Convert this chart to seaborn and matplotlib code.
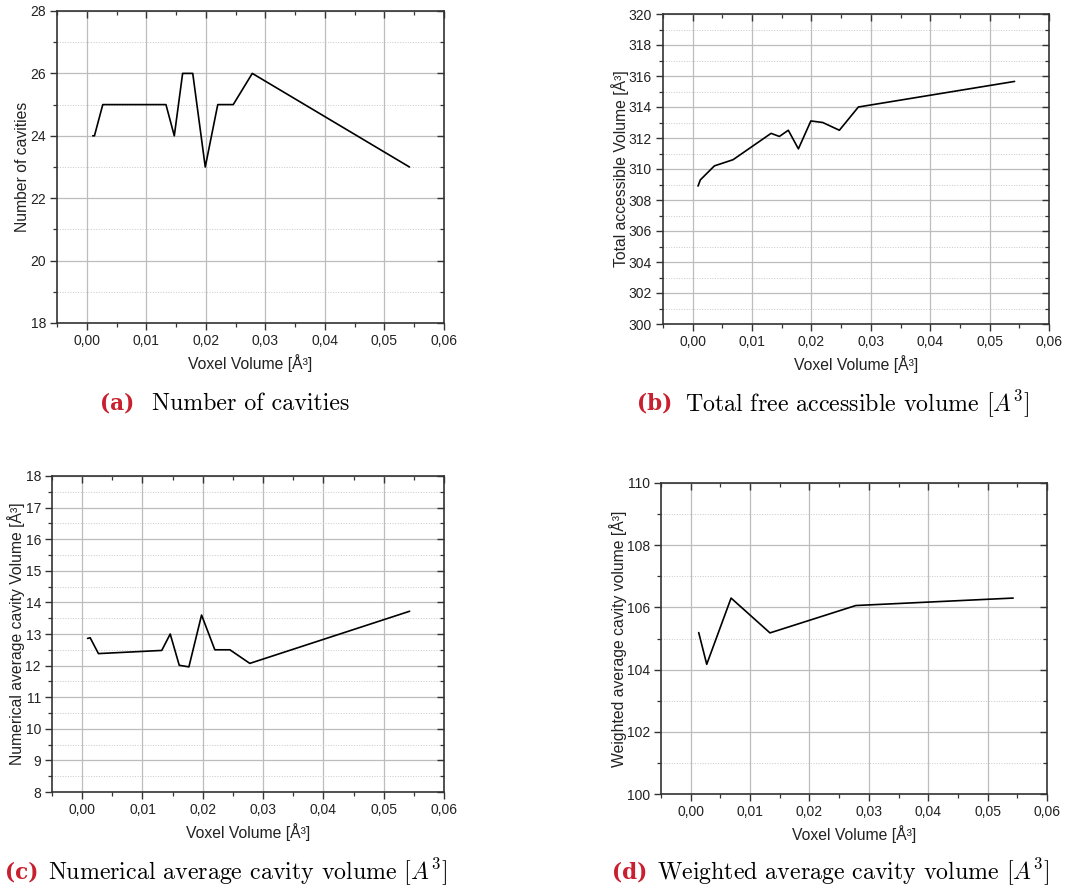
import numpy as np
import pandas as pd
import seaborn as sns
import matplotlib
matplotlib.use("Agg")
import matplotlib.pyplot as plt
from matplotlib.ticker import MultipleLocator, FuncFormatter

# ---------------- data ----------------
a_x = [0.0010, 0.00129, 0.00269, 0.0133, 0.0147, 0.0161, 0.0178, 0.0199, 0.0220, 0.0246, 0.0278, 0.0542]
a_y = [24, 24, 25, 25, 24, 26, 26, 23, 25, 25, 26, 23]

b_x = [0.0009, 0.00129, 0.00365, 0.0068, 0.0132, 0.0146, 0.0161, 0.0178, 0.0199, 0.0219, 0.0247, 0.0279, 0.0542]
b_y = [308.9, 309.3, 310.2, 310.6, 312.3, 312.1, 312.5, 311.3, 313.1, 313.0, 312.5, 314.0, 315.65]

c_x = [0.0009, 0.00133, 0.0027, 0.0132, 0.0146, 0.0161, 0.0177, 0.0198, 0.0220, 0.0245, 0.0278, 0.0543]
c_y = [12.86, 12.88, 12.38, 12.48, 13.0, 12.01, 11.96, 13.6, 12.5, 12.5, 12.07, 13.72]

d_x = [0.00135, 0.0027, 0.0068, 0.01335, 0.0278, 0.0543]
d_y = [105.19, 104.17, 106.30, 105.18, 106.06, 106.30]

x_label = "Voxel Volume [Å³]"
y_labels = ["Number of cavities", "Total accessible Volume [Å³]",
            "Numerical average cavity Volume [Å³]", "Weighted average cavity volume [Å³]"]
tags = ["(a)", "(b)", "(c)", "(d)"]
captions = ["Number of cavities", r"Total free accessible volume $[A^3]$",
            r"Numerical average cavity volume $[A^3]$", r"Weighted average cavity volume $[A^3]$"]
y_ranges = [(18, 28), (300, 320), (8, 18), (100, 110)]
y_major = [2, 2, 1, 2]

# ---------------- style ----------------
sns.set_style("white")
plt.rcParams['font.family'] = ['Liberation Sans', 'DejaVu Sans']
plt.rcParams['mathtext.fontset'] = 'cm'

W, H = 1067, 890
fig = plt.figure(figsize=(W / 100, H / 100), dpi=100)

# axes rectangles in pixels: left, top, right, bottom
rects = [(57, 11, 444, 323), (663, 14, 1049, 324), (52, 476, 444, 792), (661, 483, 1047, 794)]
datasets = [(a_x, a_y), (b_x, b_y), (c_x, c_y), (d_x, d_y)]
# caption: tag left edge, text left, center y
cap_pos = [(100, 152, 404), (637, 685, 404), (5, 48, 872), (612, 657, 872)]

comma = FuncFormatter(lambda v, p: f"{v:.2f}".replace('.', ','))

for i in range(4):
    l, t, r, b = rects[i]
    ax = fig.add_axes([l / W, 1 - b / H, (r - l) / W, (b - t) / H])
    xs, ys = datasets[i]
    df = pd.DataFrame({"x": xs, "y": ys})
    sns.lineplot(data=df, x="x", y="y", ax=ax, color="black", linewidth=1.2,
                 estimator=None, sort=False)
    ax.set_xlim(-0.005, 0.06)
    ax.set_ylim(*y_ranges[i])
    ax.xaxis.set_major_locator(MultipleLocator(0.01))
    ax.xaxis.set_minor_locator(MultipleLocator(0.005))
    ax.yaxis.set_major_locator(MultipleLocator(y_major[i]))
    ax.yaxis.set_minor_locator(MultipleLocator(y_major[i] / 2))
    ax.xaxis.set_major_formatter(comma)
    ax.grid(True, which='major', color='#bdbdbd', linewidth=0.9, linestyle='-')
    ax.grid(True, which='minor', axis='y', color='#c8c8c8', linewidth=0.7, linestyle=':')
    ax.set_axisbelow(True)
    for s in ax.spines.values():
        s.set_color('#333333')
        s.set_linewidth(1.2)
        s.set_visible(True)
    ax.tick_params(which='both', bottom=True, left=True, top=True, right=True,
                   direction='out', colors='#333333', labelcolor='#222222', labelsize=10)
    ax.tick_params(which='major', length=5, width=1, pad=3)
    ax.tick_params(which='minor', length=3, width=0.9)
    # top & right ticks point inward
    for tk in ax.xaxis.get_major_ticks() + ax.xaxis.get_minor_ticks():
        tk.tick2line.set_marker(matplotlib.lines.TICKDOWN)
    for tk in ax.yaxis.get_major_ticks() + ax.yaxis.get_minor_ticks():
        tk.tick2line.set_marker(matplotlib.lines.TICKLEFT)
    ax.set_xlabel(x_label, fontsize=11.3, color='#222222', labelpad=4)
    ax.set_ylabel(y_labels[i], fontsize=11.3, color='#222222', labelpad=0)

    tl0, tl, cy = cap_pos[i]
    fig.text(tl0 / W, 1 - cy / H, tags[i], ha='left', va='center',
             family='DejaVu Serif', fontweight='bold', fontsize=15.5, color='#c8202e')
    fig.text(tl / W, 1 - cy / H, captions[i], ha='left', va='center',
             family='cmr10', fontsize=17.2, color='black')

fig.savefig("out.png", dpi=100)
